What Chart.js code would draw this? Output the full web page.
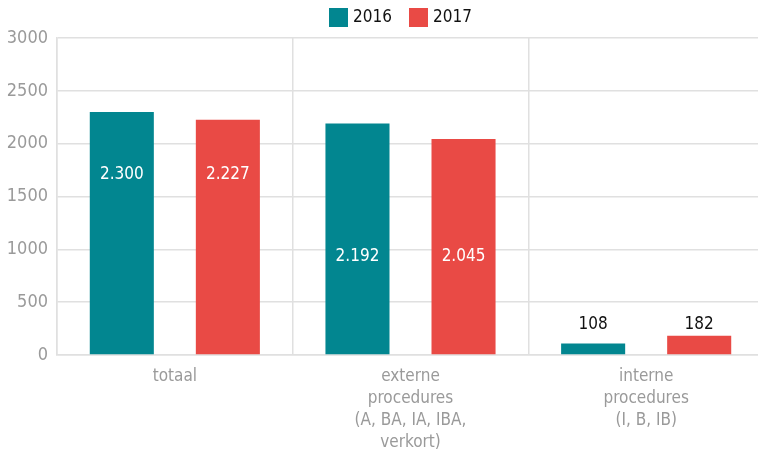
<!DOCTYPE html>
<html lang="nl">
<head>
  <meta charset="UTF-8" />
  <title>Procedures 2016-2017</title>
  <script src="https://cdn.jsdelivr.net/npm/chart.js@4"></script>
  <style>
    * { box-sizing: border-box; margin: 0; padding: 0; }
    html, body { background: #fff; overflow: hidden; }
    .wrap { width: 764px; height: 455px; position: relative; }
  </style>
</head>
<body>
  <div class="wrap"><canvas id="chart"></canvas></div>

  <script>
    const categories = [
      ['totaal'],
      ['externe', 'procedures', '(A, BA, IA, IBA,', 'verkort)'],
      ['interne', 'procedures', '(I, B, IB)']
    ];
    const values2016 = [2300, 2192, 108];
    const values2017 = [2227, 2045, 182];
    const yTicks = [0, 500, 1000, 1500, 2000, 2500, 3000];

    const FONT = "'Liberation Sans Narrow', 'DejaVu Sans Condensed', 'Roboto', sans-serif";

    // dutch thousands separator
    const fmt = v => String(v).replace(/\B(?=(\d{3})+(?!\d))/g, '.');

    // labels: white inside tall bars, black above small ones
    const valueLabels = {
      id: 'valueLabels',
      afterDatasetsDraw(chart, args, opts) {
        const ctx = chart.ctx;
        const y = chart.scales.y;
        ctx.save();
        ctx.font = '17px ' + FONT;
        ctx.textAlign = 'center';
        ctx.textBaseline = 'middle';
        chart.data.datasets.forEach((ds, di) => {
          chart.getDatasetMeta(di).data.forEach((bar, i) => {
            const inside = ds.data[i] > 1000;
            ctx.fillStyle = inside ? '#ffffff' : '#111111';
            ctx.fillText(fmt(ds.data[i]), bar.x, y.getPixelForValue(opts.anchors[i]));
          });
        });
        ctx.restore();
      }
    };

    // small legend on top, placed by hand
    const topLegend = {
      id: 'topLegend',
      afterDraw(chart, args, opts) {
        const ctx = chart.ctx;
        ctx.save();
        ctx.font = '17px ' + FONT;
        ctx.textBaseline = 'middle';
        chart.data.datasets.forEach((ds, i) => {
          const x = opts.x + i * opts.step;
          ctx.fillStyle = ds.backgroundColor;
          ctx.fillRect(x, opts.y, 19, 19);
          ctx.fillStyle = '#111';
          ctx.fillText(ds.label, x + 24, opts.y + 10);
        });
        ctx.restore();
      }
    };

    new Chart(document.getElementById('chart'), {
      type: 'bar',
      data: {
        labels: categories,
        datasets: [
          { label: '2016', data: values2016, backgroundColor: '#028690' },
          { label: '2017', data: values2017, backgroundColor: '#e94a45' }
        ]
      },
      options: {
        responsive: true,
        maintainAspectRatio: false,
        animation: false,
        categoryPercentage: 0.9,
        barPercentage: 0.604,
        layout: { padding: { top: 38, right: 0, left: 0, bottom: 0 } },
        plugins: {
          tooltip: { enabled: false },
          legend: { display: false },
          valueLabels: { anchors: [1710, 930, 290] },
          topLegend: { x: 329, y: 8, step: 80 }
        },
        scales: {
          x: {
            afterFit: s => { s.height = 100; },
            grid: { color: '#e0e0e0', lineWidth: 1.5, drawTicks: false, offset: true },
            border: { color: '#e0e0e0', width: 1.5 },
            ticks: {
              color: '#9a9a9a',
              padding: 11,
              maxRotation: 0,
              font: { family: FONT, size: 17, lineHeight: 1.28 }
            }
          },
          y: {
            min: 0,
            max: 3000,
            afterBuildTicks: s => { s.ticks = yTicks.map(v => ({ value: v })); },
            afterFit: s => { s.width = 57; },
            grid: { color: '#e0e0e0', lineWidth: 1.5, drawTicks: false },
            border: { color: '#e0e0e0', width: 1.5 },
            ticks: {
              color: '#9a9a9a',
              padding: 9,
              callback: v => String(v),
              font: { family: FONT, size: 18 }
            }
          }
        }
      },
      plugins: [valueLabels, topLegend]
    });
  </script>
</body>
</html>
